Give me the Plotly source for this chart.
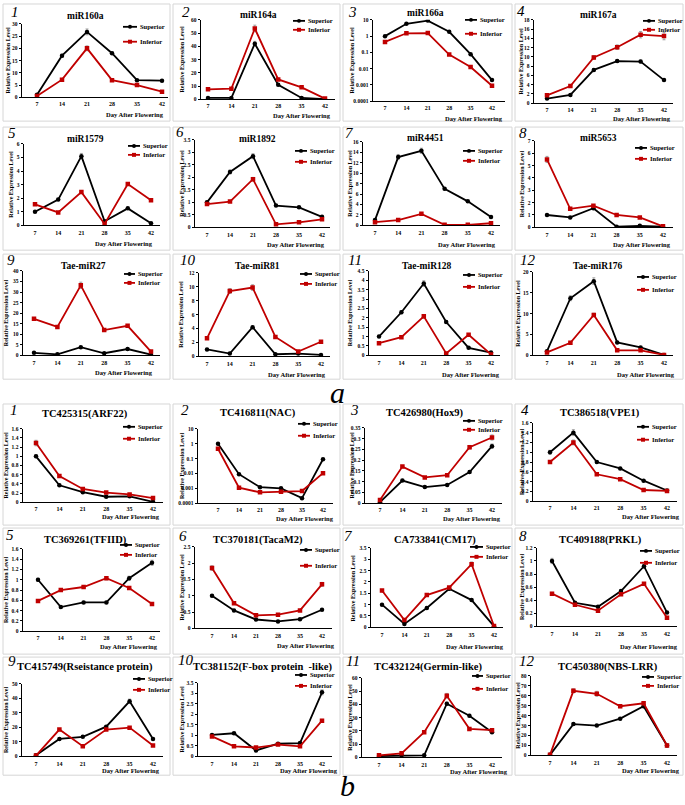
import plotly.graph_objects as go

W, H = 685, 805
days = [7, 14, 21, 28, 35, 42]
day_labels = ["7", "14", "21", "28", "35", "42"]

# ---------------- panel a : miRNAs ----------------
a_titles = ["miR160a", "miR164a", "miR166a", "miR167a", "miR1579", "miR1892",
            "miR4451", "miR5653", "Tae-miR27", "Tae-miR81", "Tae-miR128", "Tae-miR176"]

mir160a_sup = [1.0, 17.0, 26.7, 18.0, 7.0, 6.8]
mir160a_inf = [0.5, 7.2, 20.0, 7.0, 5.0, 2.3]
mir160a_sup_err = [0.2, 0.6, 1.2, 0.5, 0.3, 0.2]
mir160a_inf_err = [0.1, 0.3, 1.0, 0.3, 0.2, 0.2]

mir164a_sup = [1.0, 1.0, 42.0, 11.0, 1.0, 0.0]
mir164a_inf = [7.5, 8.0, 53.5, 15.0, 9.0, 0.5]
mir164a_sup_err = [0.2, 0.2, 1.8, 0.8, 0.2, 0.1]
mir164a_inf_err = [0.3, 0.3, 2.5, 0.8, 0.5, 0.2]

mir166a_sup = [1.0, 5.7, 9.0, 1.86, 0.078, 0.002]
mir166a_inf = [0.44, 1.5, 1.55, 0.074, 0.0126, 0.0009]
mir166a_sup_err = [0.0, 0.0, 0.0, 0.0, 0.0, 0.0]
mir166a_inf_err = [0.0, 0.0, 0.0, 0.0, 0.0, 0.0]

mir167a_sup = [1.0, 1.8, 7.2, 9.1, 9.0, 5.0]
mir167a_inf = [1.7, 3.7, 9.9, 12.1, 14.8, 14.5]
mir167a_sup_err = [0.1, 0.1, 0.3, 0.3, 0.3, 0.2]
mir167a_inf_err = [0.1, 0.2, 0.4, 0.5, 0.7, 0.8]

mir1579_sup = [1.0, 1.9, 5.1, 0.3, 1.25, 0.15]
mir1579_inf = [1.55, 0.95, 2.45, 0.1, 3.05, 1.85]
mir1579_sup_err = [0.05, 0.08, 0.2, 0.03, 0.05, 0.02]
mir1579_inf_err = [0.05, 0.05, 0.1, 0.02, 0.1, 0.08]

mir1892_sup = [1.0, 2.22, 2.85, 0.87, 0.8, 0.42]
mir1892_inf = [0.93, 1.03, 1.93, 0.12, 0.2, 0.32]
mir1892_sup_err = [0.04, 0.08, 0.1, 0.03, 0.03, 0.02]
mir1892_inf_err = [0.03, 0.03, 0.07, 0.01, 0.01, 0.02]

mir4451_sup = [1.0, 13.1, 14.3, 7.0, 4.6, 1.6]
mir4451_inf = [0.6, 1.0, 2.2, 0.1, 0.1, 0.4]
mir4451_sup_err = [0.1, 0.5, 0.5, 0.2, 0.2, 0.1]
mir4451_inf_err = [0.05, 0.05, 0.1, 0.02, 0.02, 0.03]

mir5653_sup = [1.0, 0.8, 1.55, 0.05, 0.12, 0.05]
mir5653_inf = [5.5, 1.5, 1.75, 1.0, 0.8, 0.08]
mir5653_sup_err = [0.04, 0.03, 0.06, 0.01, 0.01, 0.01]
mir5653_inf_err = [0.25, 0.05, 0.06, 0.04, 0.03, 0.01]

taemir27_sup = [1.2, 0.5, 3.9, 1.0, 3.0, 0.3]
taemir27_inf = [17.3, 13.5, 33.2, 12.0, 14.0, 1.8]
taemir27_sup_err = [0.1, 0.05, 0.2, 0.1, 0.1, 0.05]
taemir27_inf_err = [0.5, 0.4, 1.5, 0.4, 0.4, 0.1]

taemir81_sup = [1.0, 0.4, 4.2, 0.3, 0.4, 0.2]
taemir81_inf = [2.6, 9.4, 9.9, 2.8, 0.7, 2.1]
taemir81_sup_err = [0.05, 0.03, 0.15, 0.02, 0.02, 0.02]
taemir81_inf_err = [0.1, 0.35, 0.4, 0.1, 0.05, 0.08]

taemir128_sup = [1.0, 2.3, 3.83, 1.78, 0.4, 0.15]
taemir128_inf = [0.65, 0.97, 2.08, 0.1, 1.1, 0.05]
taemir128_sup_err = [0.04, 0.08, 0.15, 0.05, 0.02, 0.01]
taemir128_inf_err = [0.03, 0.03, 0.1, 0.01, 0.04, 0.01]

taemir176_sup = [1.0, 13.7, 17.8, 3.1, 1.9, 0.1]
taemir176_inf = [0.7, 3.0, 9.7, 1.2, 1.2, 0.1]
taemir176_sup_err = [0.05, 0.6, 0.8, 0.1, 0.1, 0.02]
taemir176_inf_err = [0.05, 0.1, 0.4, 0.05, 0.05, 0.02]

# ---------------- panel b : target genes ----------------
b_titles = ["TC425315(ARF22)", "TC416811(NAC)", "TC426980(Hox9)", "TC386518(VPE1)",
            "TC369261(TFIID)", "TC370181(TacaM2)", "CA733841(CM17)", "TC409188(PRKL)",
            "TC415749(Rseistance protein)", "TC381152(F-box protein  -like)",
            "TC432124(Germin-like)", "TC450380(NBS-LRR)"]

arf22_sup = [1.0, 0.37, 0.22, 0.12, 0.13, 0.01]
arf22_inf = [1.29, 0.57, 0.29, 0.21, 0.17, 0.09]
arf22_sup_err = [0.03, 0.02, 0.01, 0.01, 0.01, 0.005]
arf22_inf_err = [0.06, 0.02, 0.01, 0.01, 0.01, 0.005]

nac_sup = [1.0, 0.009, 0.0012, 0.001, 0.00022, 0.09]
nac_inf = [0.46, 0.0011, 0.00054, 0.00058, 0.00066, 0.0105]
nac_sup_err = [0.0, 0.0, 0.0, 0.0, 0.0, 0.0]
nac_inf_err = [0.0, 0.0, 0.0, 0.0, 0.0, 0.0]

hox9_sup = [0.005, 0.105, 0.075, 0.085, 0.145, 0.265]
hox9_inf = [0.015, 0.17, 0.12, 0.13, 0.26, 0.305]
hox9_sup_err = [0.001, 0.004, 0.003, 0.003, 0.005, 0.01]
hox9_inf_err = [0.001, 0.005, 0.004, 0.004, 0.008, 0.012]

vpe1_sup = [1.0, 1.4, 0.8, 0.67, 0.42, 0.22]
vpe1_inf = [0.8, 1.2, 0.55, 0.45, 0.23, 0.21]
vpe1_sup_err = [0.04, 0.06, 0.02, 0.02, 0.01, 0.01]
vpe1_inf_err = [0.03, 0.05, 0.02, 0.01, 0.01, 0.01]

tfiid_sup = [1.0, 0.47, 0.56, 0.56, 1.03, 1.33]
tfiid_inf = [0.59, 0.8, 0.86, 1.03, 0.84, 0.53]
tfiid_sup_err = [0.03, 0.02, 0.02, 0.02, 0.04, 0.05]
tfiid_inf_err = [0.02, 0.02, 0.02, 0.03, 0.02, 0.02]

tacam2_sup = [1.0, 0.55, 0.27, 0.21, 0.28, 0.57]
tacam2_inf = [1.85, 0.77, 0.4, 0.42, 0.55, 1.35]
tacam2_sup_err = [0.03, 0.02, 0.01, 0.01, 0.01, 0.02]
tacam2_inf_err = [0.07, 0.03, 0.02, 0.02, 0.02, 0.06]

cm17_sup = [1.0, 0.15, 0.85, 1.7, 1.2, 0.05]
cm17_inf = [1.62, 0.32, 1.42, 1.75, 2.78, 0.06]
cm17_sup_err = [0.03, 0.01, 0.03, 0.05, 0.04, 0.01]
cm17_inf_err = [0.05, 0.02, 0.04, 0.05, 0.1, 0.01]

prkl_sup = [1.0, 0.36, 0.3, 0.54, 0.92, 0.21]
prkl_inf = [0.5, 0.33, 0.24, 0.49, 0.65, 0.13]
prkl_sup_err = [0.04, 0.01, 0.01, 0.02, 0.03, 0.01]
prkl_inf_err = [0.02, 0.01, 0.01, 0.02, 0.02, 0.01]

rprot_sup = [0.8, 12.0, 13.5, 20.5, 38.0, 12.0]
rprot_inf = [0.5, 18.5, 7.0, 18.5, 19.8, 7.5]
rprot_sup_err = [0.1, 0.5, 0.5, 0.7, 1.5, 0.5]
rprot_inf_err = [0.05, 0.6, 0.3, 0.6, 0.6, 0.3]

fbox_sup = [1.02, 1.1, 0.28, 0.6, 0.63, 3.05]
fbox_inf = [0.95, 0.48, 0.42, 0.56, 0.48, 1.7]
fbox_sup_err = [0.03, 0.03, 0.01, 0.02, 0.02, 0.12]
fbox_inf_err = [0.03, 0.02, 0.01, 0.02, 0.02, 0.06]

germin_sup = [1.0, 1.5, 1.5, 40.5, 31.5, 19.0]
germin_inf = [1.5, 3.0, 19.0, 46.5, 21.5, 20.5]
germin_sup_err = [0.1, 0.1, 0.1, 1.2, 1.0, 0.6]
germin_inf_err = [0.1, 0.2, 0.6, 1.8, 0.7, 0.7]

nbslrr_sup = [0.5, 31.5, 30.0, 37.0, 49.5, 10.0]
nbslrr_inf = [0.5, 65.0, 62.0, 49.5, 52.5, 10.0]
nbslrr_sup_err = [0.1, 1.0, 0.9, 1.1, 1.5, 0.4]
nbslrr_inf_err = [0.1, 2.0, 2.5, 1.5, 1.5, 0.4]

series = [
    (mir160a_sup, mir160a_inf, mir160a_sup_err, mir160a_inf_err),
    (mir164a_sup, mir164a_inf, mir164a_sup_err, mir164a_inf_err),
    (mir166a_sup, mir166a_inf, mir166a_sup_err, mir166a_inf_err),
    (mir167a_sup, mir167a_inf, mir167a_sup_err, mir167a_inf_err),
    (mir1579_sup, mir1579_inf, mir1579_sup_err, mir1579_inf_err),
    (mir1892_sup, mir1892_inf, mir1892_sup_err, mir1892_inf_err),
    (mir4451_sup, mir4451_inf, mir4451_sup_err, mir4451_inf_err),
    (mir5653_sup, mir5653_inf, mir5653_sup_err, mir5653_inf_err),
    (taemir27_sup, taemir27_inf, taemir27_sup_err, taemir27_inf_err),
    (taemir81_sup, taemir81_inf, taemir81_sup_err, taemir81_inf_err),
    (taemir128_sup, taemir128_inf, taemir128_sup_err, taemir128_inf_err),
    (taemir176_sup, taemir176_inf, taemir176_sup_err, taemir176_inf_err),
    (arf22_sup, arf22_inf, arf22_sup_err, arf22_inf_err),
    (nac_sup, nac_inf, nac_sup_err, nac_inf_err),
    (hox9_sup, hox9_inf, hox9_sup_err, hox9_inf_err),
    (vpe1_sup, vpe1_inf, vpe1_sup_err, vpe1_inf_err),
    (tfiid_sup, tfiid_inf, tfiid_sup_err, tfiid_inf_err),
    (tacam2_sup, tacam2_inf, tacam2_sup_err, tacam2_inf_err),
    (cm17_sup, cm17_inf, cm17_sup_err, cm17_inf_err),
    (prkl_sup, prkl_inf, prkl_sup_err, prkl_inf_err),
    (rprot_sup, rprot_inf, rprot_sup_err, rprot_inf_err),
    (fbox_sup, fbox_inf, fbox_sup_err, fbox_inf_err),
    (germin_sup, germin_inf, germin_sup_err, germin_inf_err),
    (nbslrr_sup, nbslrr_inf, nbslrr_sup_err, nbslrr_inf_err),
]
titles = a_titles + b_titles
panel_numbers = [str(i) for i in range(1, 13)] * 2

# y-axis scale per panel: (max, dtick) or "log"
y_scales = [(30, 5), (60, 10), "log", (18, 2),
            (6, 1), (3.5, 0.5), (16, 2), (7, 1),
            (40, 5), (12, 2), (4.5, 0.5), (20, 5),
            (1.6, 0.2), "log", (0.35, 0.05), (1.6, 0.2),
            (1.6, 0.2), (2.5, 0.5), (3.5, 0.5), (1.2, 0.2),
            (50, 10), (3.5, 0.5), (60, 10), (80, 10)]

log_ticks = [0.0001, 0.001, 0.01, 0.1, 1, 10]
log_labels = ["0.0001", "0.001", "0.01", "0.1", "1", "10"]

# ---------------- layout geometry in pixels ----------------
geo = [
    dict(box=(3, 1, 170, 119), xa=22, x7=37, x42=162, xe=168, yt=21, yb=95, t=(85, 13), n=(13, 9), lg=(123, 137, 24, 39), xt=(166, 112), yx=8),
    dict(box=(173, 1, 340, 119), xa=201, x7=208, x42=325, xe=335, yt=17, yb=97, t=(258, 12), n=(184, 9), lg=(293, 305, 18, 27), xt=(333, 113), yx=182),
    dict(box=(343, 1, 512, 119), xa=373, x7=385, x42=492, xe=505, yt=17, yb=99, t=(426, 10), n=(350, 9), lg=(465, 477, 17, 31), xt=(505, 116), yx=352),
    dict(box=(515, 1, 683, 119), xa=534, x7=547, x42=664, xe=673, yt=17, yb=101, t=(598, 12), n=(519, 8), lg=(643, 655, 18, 27), xt=(673, 116), yx=521),

    dict(box=(3, 125, 170, 249), xa=24, x7=35, x42=151, xe=160, yt=142, yb=224, t=(85, 137), n=(10, 131), lg=(128, 140, 144, 153), xt=(155, 242), yx=11),
    dict(box=(173, 125, 340, 249), xa=195, x7=207, x42=322, xe=330, yt=138, yb=226, t=(257, 137), n=(178, 130), lg=(295, 307, 149, 160), xt=(327, 243), yx=182),
    dict(box=(343, 125, 512, 249), xa=363, x7=375, x42=491, xe=500, yt=140, yb=224, t=(425, 136), n=(347, 131), lg=(463, 475, 149, 159), xt=(498, 243), yx=350),
    dict(box=(515, 125, 683, 249), xa=535, x7=547, x42=663, xe=673, yt=139, yb=226, t=(598, 136), n=(521, 131), lg=(635, 647, 146, 157), xt=(673, 243), yx=522),

    dict(box=(3, 253, 170, 379), xa=23, x7=34, x42=151, xe=160, yt=270, yb=355, t=(83, 265), n=(9, 259), lg=(124, 135, 273, 282), xt=(155, 372), yx=6),
    dict(box=(173, 253, 340, 379), xa=199, x7=207, x42=321, xe=330, yt=272, yb=356, t=(257, 265), n=(182, 259), lg=(300, 312, 273, 283), xt=(328, 374), yx=181),
    dict(box=(343, 253, 512, 379), xa=369, x7=379, x42=491, xe=500, yt=270, yb=355, t=(427, 265), n=(350, 259), lg=(463, 475, 274, 286), xt=(502, 374), yx=350),
    dict(box=(515, 253, 683, 379), xa=533, x7=547, x42=664, xe=673, yt=271, yb=355, t=(598, 265), n=(522, 259), lg=(637, 649, 276, 289), xt=(677, 374), yx=518),

    dict(box=(3, 404, 170, 526), xa=23, x7=36, x42=153, xe=163, yt=429, yb=503, t=(85, 414), n=(12, 410), lg=(123, 135, 427, 439), xt=(162, 517), yx=6),
    dict(box=(173, 404, 340, 526), xa=198, x7=218, x42=323, xe=333, yt=429, yb=504, t=(258, 413), n=(183, 410), lg=(298, 310, 424, 436), xt=(336, 519), yx=182),
    dict(box=(343, 404, 512, 526), xa=365, x7=380, x42=492, xe=502, yt=428, yb=504, t=(425, 413), n=(352, 410), lg=(463, 475, 421, 430), xt=(503, 519), yx=352),
    dict(box=(515, 404, 683, 526), xa=533, x7=550, x42=667, xe=677, yt=423, yb=502, t=(600, 413), n=(523, 410), lg=(637, 649, 427, 440), xt=(682, 517), yx=522),

    dict(box=(3, 529, 170, 656), xa=23, x7=38, x42=152, xe=160, yt=550, yb=633, t=(85, 541), n=(8, 536), lg=(120, 132, 546, 556), xt=(160, 648), yx=6),
    dict(box=(173, 529, 340, 656), xa=195, x7=212, x42=322, xe=332, yt=548, yb=630, t=(258, 541), n=(181, 537), lg=(300, 312, 551, 567), xt=(337, 647), yx=182),
    dict(box=(343, 529, 512, 656), xa=371, x7=382, x42=494, xe=503, yt=549, yb=629, t=(435, 541), n=(346, 537), lg=(470, 483, 548, 558), xt=(506, 648), yx=353),
    dict(box=(515, 529, 683, 656), xa=537, x7=552, x42=667, xe=677, yt=549, yb=628, t=(600, 541), n=(521, 537), lg=(640, 652, 552, 564), xt=(680, 648), yx=522),

    dict(box=(3, 659, 170, 778), xa=22, x7=36, x42=153, xe=163, yt=686, yb=759, t=(85, 669), n=(10, 663), lg=(133, 145, 681, 692), xt=(162, 773), yx=6),
    dict(box=(173, 659, 340, 778), xa=198, x7=212, x42=322, xe=332, yt=685, yb=759, t=(262, 669), n=(180, 662), lg=(295, 307, 677, 688), xt=(340, 773), yx=182),
    dict(box=(343, 659, 512, 778), xa=362, x7=379, x42=492, xe=502, yt=680, yb=760, t=(428, 669), n=(348, 663), lg=(472, 483, 678, 691), xt=(510, 774), yx=350),
    dict(box=(515, 659, 683, 778), xa=531, x7=550, x42=667, xe=677, yt=678, yb=758, t=(608, 669), n=(521, 663), lg=(642, 654, 679, 688), xt=(682, 773), yx=518),
]

BLACK = "#000000"
RED = "#C00000"
SERIF = "Liberation Serif"


def px(x):
    return x / W


def py(y):
    return 1 - y / H


fig = go.Figure()
layout = dict(width=W, height=H, margin=dict(l=0, r=0, t=0, b=0),
              paper_bgcolor="white", plot_bgcolor="white", showlegend=False)
shapes = []
annotations = []

for i, (g, (sup, inf, sup_e, inf_e)) in enumerate(zip(geo, series)):
    k = i + 1
    xname = "x" if k == 1 else f"x{k}"
    yname = "y" if k == 1 else f"y{k}"
    xkey = "xaxis" if k == 1 else f"xaxis{k}"
    ykey = "yaxis" if k == 1 else f"yaxis{k}"

    s = (g["x42"] - g["x7"]) / 35.0
    r0 = 7 - (g["x7"] - g["xa"]) / s
    r1 = 42 + (g["xe"] - g["x42"]) / s

    layout[xkey] = dict(domain=[px(g["xa"]), px(g["xe"])], range=[r0, r1],
                        anchor=yname, tickmode="array", tickvals=days, ticktext=day_labels,
                        showline=True, linecolor=BLACK, linewidth=1, showgrid=False,
                        zeroline=False, ticks="", ticklabelstandoff=1,
                        tickfont=dict(family=SERIF, size=6, color=BLACK, weight="bold"))
    ysc = y_scales[i]
    ycfg = dict(domain=[py(g["yb"]), py(g["yt"])], anchor=xname,
                showline=True, linecolor=BLACK, linewidth=1, showgrid=False,
                zeroline=False, ticks="outside", ticklen=2.5, tickcolor=BLACK,
                tickfont=dict(family=SERIF, size=5.5, color=BLACK, weight="bold"))
    if ysc == "log":
        ycfg.update(type="log", range=[-4, 1], tickmode="array",
                    tickvals=log_ticks, ticktext=log_labels)
    else:
        ycfg.update(range=[0, ysc[0]], dtick=ysc[1], tick0=0)
    layout[ykey] = ycfg

    for vals, errs, col, sym in ((sup, sup_e, BLACK, "circle"), (inf, inf_e, RED, "square")):
        fig.add_trace(go.Scatter(
            x=days, y=vals, mode="lines+markers", xaxis=xname, yaxis=yname,
            line=dict(color=col, width=1.8),
            marker=dict(color=col, size=4.5, symbol=sym),
            error_y=dict(type="data", array=errs, visible=True, color="#808080",
                         thickness=0.7, width=1.5),
            showlegend=False, hoverinfo="skip"))

    # panel frame
    bx0, by0, bx1, by1 = g["box"]
    shapes.append(dict(type="rect", xref="paper", yref="paper",
                       x0=px(bx0), x1=px(bx1), y0=py(by1), y1=py(by0),
                       line=dict(color="#D6D6D6", width=1), layer="below"))

    # title
    big = i >= 12
    annotations.append(dict(text=f"<b>{titles[i]}</b>", x=px(g["t"][0]), y=py(g["t"][1]),
                            xref="paper", yref="paper", showarrow=False,
                            xanchor="center", yanchor="middle",
                            font=dict(family=SERIF, size=10.5 if big else 9.5, color=BLACK)))
    # panel number
    annotations.append(dict(text=f"<i>{panel_numbers[i]}</i>", x=px(g["n"][0] - 4), y=py(g["n"][1]),
                            xref="paper", yref="paper", showarrow=False,
                            xanchor="left", yanchor="middle",
                            font=dict(family=SERIF, size=15, color=BLACK)))
    # axis titles
    annotations.append(dict(text="<b>Day After Flowering</b>", x=px(g["xt"][0]), y=py(g["xt"][1]),
                            xref="paper", yref="paper", showarrow=False,
                            xanchor="right", yanchor="middle",
                            font=dict(family=SERIF, size=6.5, color=BLACK)))
    annotations.append(dict(text="<b>Relative Expression Level</b>", x=px(g["yx"]),
                            y=py((g["yt"] + g["yb"]) / 2), textangle=-90,
                            xref="paper", yref="paper", showarrow=False,
                            xanchor="center", yanchor="middle",
                            font=dict(family=SERIF, size=6, color=BLACK)))
    # legend (drawn as decoration)
    lx0, lx1, ly1, ly2 = g["lg"]
    for ly, col, name, sym in ((ly1, BLACK, "Superior", "circle"), (ly2, RED, "Inferior", "rect")):
        shapes.append(dict(type="line", xref="paper", yref="paper",
                           x0=px(lx0), x1=px(lx1), y0=py(ly), y1=py(ly),
                           line=dict(color=col, width=1.8)))
        cx = (lx0 + lx1) / 2
        shapes.append(dict(type="circle" if sym == "circle" else "rect", xref="paper", yref="paper",
                           x0=px(cx - 2), x1=px(cx + 2), y0=py(ly + 2), y1=py(ly - 2),
                           fillcolor=col, line=dict(color=col, width=0)))
        annotations.append(dict(text=f"<b>{name}</b>", x=px(lx1 + 1), y=py(ly),
                                xref="paper", yref="paper", showarrow=False,
                                xanchor="left", yanchor="middle",
                                font=dict(family=SERIF, size=6.5, color=BLACK)))

# section letters
annotations.append(dict(text="<i>a</i>", x=px(337), y=py(392), xref="paper", yref="paper",
                        showarrow=False, xanchor="center", yanchor="middle",
                        font=dict(family=SERIF, size=30, color=BLACK)))
annotations.append(dict(text="<i>b</i>", x=px(347), y=py(788), xref="paper", yref="paper",
                        showarrow=False, xanchor="center", yanchor="middle",
                        font=dict(family=SERIF, size=30, color=BLACK)))

layout["shapes"] = shapes
layout["annotations"] = annotations
fig.update_layout(**layout)
fig.write_html("out.html",
               config={"displayModeBar": False, "staticPlot": True},
               post_script="document.body.style.margin='0';document.body.style.overflow='hidden';")
